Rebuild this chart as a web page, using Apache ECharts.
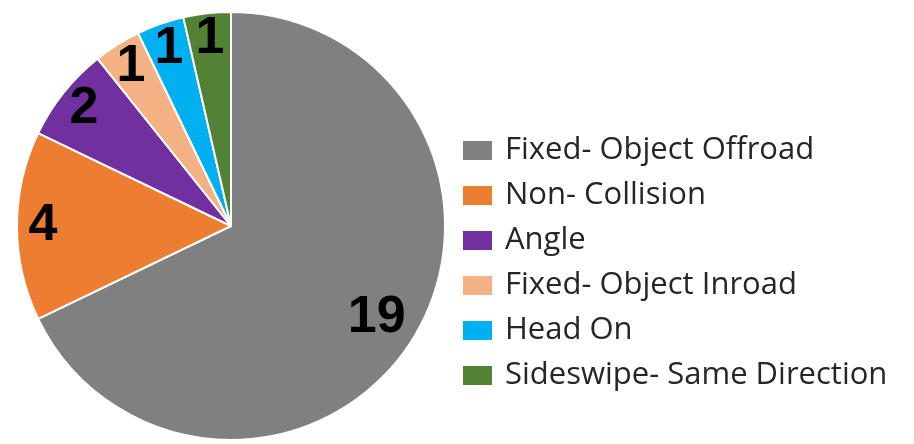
<!DOCTYPE html>
<html>
<head>
<meta charset="utf-8">
<style>html,body{margin:0;padding:0;background:#fff;}#c{width:914px;height:444px;}</style>
<script src="https://cdn.jsdelivr.net/npm/echarts@6/dist/echarts.min.js"></script>
</head>
<body>
<div id="c"></div>
<script>
const categories = ['Fixed- Object Offroad', 'Non- Collision', 'Angle', 'Fixed- Object Inroad', 'Head On', 'Sideswipe- Same Direction'];
const values = [19, 4, 2, 1, 1, 1];
const colors = ['#808080', '#ED7D31', '#7030A0', '#F4B183', '#00B0F0', '#548235'];

const chart = echarts.init(document.getElementById('c'));
const R = 214;
const center = [231, 226];
const baseData = categories.map((n, i) => ({ name: n, value: values[i], itemStyle: { color: colors[i] } }));
const labelFont = { fontFamily: 'Liberation Sans', fontWeight: 'bold', fontSize: 52, color: '#000' };

chart.setOption({
  animation: false,
  color: colors,
  legend: {
    orient: 'vertical',
    left: 456,
    top: 130,
    height: 310,
    itemWidth: 31,
    itemHeight: 21,
    itemGap: 14,
    icon: 'rect',
    data: categories,
    textStyle: { fontFamily: 'Open Sans', fontSize: 31, color: '#262626', padding: [0, 0, 0, 7] }
  },
  series: [
    {
      type: 'pie',
      center: center,
      radius: [0, R],
      startAngle: 90,
      clockwise: true,
      silent: true,
      label: { show: false },
      labelLine: { show: false },
      itemStyle: { borderColor: '#fff', borderWidth: 2 },
      data: baseData
    },
    {
      type: 'pie',
      center: center,
      radius: [R * 0.73, R],
      startAngle: 90,
      clockwise: true,
      silent: true,
      itemStyle: { color: 'rgba(0,0,0,0)' },
      label: Object.assign({ show: true, position: 'inside', formatter: '{c}' }, labelFont),
      labelLine: { show: false },
      data: categories.map((n, i) => ({ name: n, value: values[i], label: { show: i !== 0 } }))
    },
    {
      type: 'pie',
      center: center,
      radius: [R * 0.58, R],
      startAngle: 90,
      clockwise: true,
      silent: true,
      itemStyle: { color: 'rgba(0,0,0,0)' },
      label: Object.assign({ show: true, position: 'inside', formatter: '{c}' }, labelFont),
      labelLine: { show: false },
      data: categories.map((n, i) => ({ name: n, value: values[i], label: { show: i === 0 } }))
    }
  ]
});
</script>
</body>
</html>
